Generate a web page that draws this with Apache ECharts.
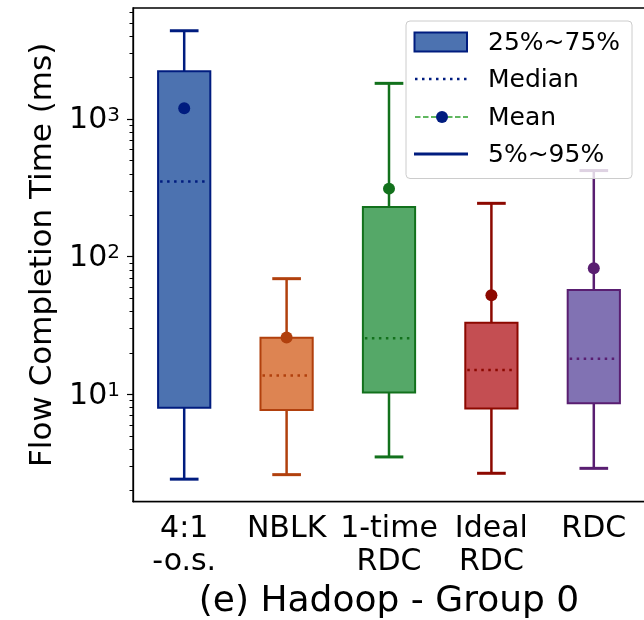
<!DOCTYPE html>
<html>
<head>
<meta charset="utf-8">
<script src="https://cdn.jsdelivr.net/npm/echarts@6/dist/echarts.min.js"></script>
<style>
  html, body { margin: 0; padding: 0; background: #fff; }
  #chart { width: 644px; height: 620px; }
</style>
</head>
<body>
<div id="chart"></div>
<script>
// Flow completion time percentiles per scheme (ms)
const categories = ['4:1\n-o.s.', 'NBLK', '1-time\nRDC', 'Ideal\nRDC', 'RDC'];
const p5     = [2.42, 2.61, 3.51, 2.67, 2.90];
const p25    = [8.0, 7.7, 10.3, 7.9, 8.6];
const median = [352, 13.7, 25.5, 15.0, 18.1];
const p75    = [2218, 25.8, 229, 33.1, 57.3];
const p95    = [4375, 69.2, 1815, 244, 422];
const mean   = [1196, 25.9, 312, 52.5, 82.4];

// Log-axis tick values
const majorTicks = [10, 100, 1000];
const minorTicks = [2, 3, 4, 5, 6, 7, 8, 9, 20, 30, 40, 50, 60, 70, 80, 90,
                    200, 300, 400, 500, 600, 700, 800, 900, 2000, 3000, 4000, 5000, 6000];
const yRange = [1.66, 6400];

const legendLabels = ['25%~75%', 'Median', 'Mean', '5%~95%'];
const xTitle = '(e) Hadoop - Group 0';
const yTitle = 'Flow Completion Time (ms)';

const fillColors = ['#4c72b0', '#dd8452', '#55a868', '#c44e52', '#8172b3'];
const edgeColors = ['#001c7f', '#b1400d', '#12711c', '#8c0800', '#591e71'];
const FONT = 'DejaVu Sans';

const lg = Math.log10;
const boxData = categories.map((c, i) =>
  [i, lg(p5[i]), lg(p25[i]), lg(median[i]), lg(p75[i]), lg(p95[i]), lg(mean[i])]);

function renderBox(params, api) {
  const i = api.value(0);
  const band = api.size([1, 0])[0];
  const pt = k => api.coord([i, api.value(k)]);
  const cx = pt(1)[0];
  const yP5 = pt(1)[1], yP25 = pt(2)[1], yMed = pt(3)[1], yP75 = pt(4)[1], yP95 = pt(5)[1], yMean = pt(6)[1];
  const boxW = band * 0.51, capW = band * 0.28;
  const edge = edgeColors[i], fill = fillColors[i];
  return {
    type: 'group',
    children: [
      { type: 'line', shape: { x1: cx, y1: yP75, x2: cx, y2: yP95 }, style: { stroke: edge, lineWidth: 2.5 } },
      { type: 'line', shape: { x1: cx, y1: yP25, x2: cx, y2: yP5 }, style: { stroke: edge, lineWidth: 2.5 } },
      { type: 'line', shape: { x1: cx - capW / 2, y1: yP95, x2: cx + capW / 2, y2: yP95 }, style: { stroke: edge, lineWidth: 3 } },
      { type: 'line', shape: { x1: cx - capW / 2, y1: yP5, x2: cx + capW / 2, y2: yP5 }, style: { stroke: edge, lineWidth: 3 } },
      { type: 'rect', shape: { x: cx - boxW / 2, y: yP75, width: boxW, height: yP25 - yP75 },
        style: { fill: fill, stroke: edge, lineWidth: 2 } },
      { type: 'line', shape: { x1: cx - boxW / 2 + 2, y1: yMed, x2: cx + boxW / 2 - 2, y2: yMed },
        style: { stroke: edge, lineWidth: 2.5, lineDash: [2.5, 4.5] } },
      { type: 'circle', shape: { cx: cx, cy: yMean, r: 6 }, style: { fill: edge } }
    ]
  };
}

// Legend drawn as graphic elements
const LX = 406, LY = 21, LW = 226, LH = 157.5;
const rowY = [42, 79, 117, 154];
const textX = 488;
const legendGraphic = [
  { type: 'rect', z: 100, shape: { x: LX, y: LY, width: LW, height: LH, r: 4 },
    style: { fill: 'rgba(255,255,255,0.8)', stroke: '#cccccc', lineWidth: 1 } },
  { type: 'rect', z: 101, shape: { x: 414.5, y: 32.5, width: 52.5, height: 19 },
    style: { fill: fillColors[0], stroke: edgeColors[0], lineWidth: 2 } },
  { type: 'line', z: 101, shape: { x1: 415, y1: rowY[1], x2: 468, y2: rowY[1] },
    style: { stroke: edgeColors[0], lineWidth: 2.5, lineDash: [2.5, 4.5] } },
  { type: 'line', z: 101, shape: { x1: 415, y1: rowY[2], x2: 468, y2: rowY[2] },
    style: { stroke: '#2ca02c', lineWidth: 1.5, lineDash: [5.5, 2.5] } },
  { type: 'circle', z: 102, shape: { cx: 442, cy: rowY[2], r: 6 }, style: { fill: edgeColors[0] } },
  { type: 'line', z: 101, shape: { x1: 414, y1: rowY[3], x2: 468, y2: rowY[3] },
    style: { stroke: edgeColors[0], lineWidth: 3 } }
].concat(legendLabels.map((t, k) => ({
  type: 'text', z: 101, x: textX, y: rowY[k] + 1,
  style: { text: t, fill: '#000', font: '25px "' + FONT + '"', textVerticalAlign: 'middle', textAlign: 'left' }
})));

const chart = echarts.init(document.getElementById('chart'), null, { renderer: 'canvas' });
chart.setOption({
  animation: false,
  backgroundColor: '#fff',
  grid: { left: 133, top: 8, right: -1, bottom: 118.3, outerBoundsMode: 'none', containLabel: false,
          show: true, borderColor: '#000', borderWidth: 1.3, backgroundColor: 'transparent' },
  xAxis: {
    type: 'category',
    data: categories,
    boundaryGap: true,
    name: xTitle,
    nameLocation: 'middle',
    nameGap: 82,
    nameTextStyle: { fontFamily: FONT, fontSize: 36, color: '#000' },
    axisLine: { lineStyle: { color: '#000', width: 1.3 } },
    axisTick: { alignWithLabel: true, length: 5, lineStyle: { color: '#000', width: 1.2 } },
    axisLabel: { interval: 0, fontFamily: FONT, fontSize: 30, lineHeight: 33, color: '#000', margin: 11 },
    splitLine: { show: false }
  },
  yAxis: [
    {
      type: 'value',
      min: lg(yRange[0]),
      max: lg(yRange[1]),
      name: yTitle,
      nameLocation: 'middle',
      nameGap: 72,
      nameTextStyle: { fontFamily: FONT, fontSize: 31, color: '#000' },
      axisLine: { show: true, lineStyle: { color: '#000', width: 1.3 } },
      axisTick: { show: true, length: 6, customValues: majorTicks.map(lg), lineStyle: { color: '#000', width: 1.2 } },
      axisLabel: {
        customValues: majorTicks.map(lg),
        margin: 13,
        padding: [3, 0, 0, 0],
        formatter: v => '{b|10}{s|' + Math.round(v) + '}',
        rich: {
          b: { fontFamily: FONT, fontSize: 30, color: '#000' },
          s: { fontFamily: FONT, fontSize: 20, color: '#000', verticalAlign: 'top', lineHeight: 16 }
        }
      },
      splitLine: { show: false }
    },
    {
      type: 'value',
      position: 'left',
      offset: 0,
      min: lg(yRange[0]),
      max: lg(yRange[1]),
      axisLine: { show: false },
      axisTick: { show: true, length: 3.5, customValues: minorTicks.map(lg), lineStyle: { color: '#000', width: 1 } },
      axisLabel: { show: false },
      splitLine: { show: false }
    }
  ],
  series: [{
    type: 'custom',
    renderItem: renderBox,
    data: boxData,
    encode: { x: 0, y: [1, 2, 3, 4, 5, 6] },
    z: 5
  }],
  graphic: legendGraphic
});
</script>
</body>
</html>
